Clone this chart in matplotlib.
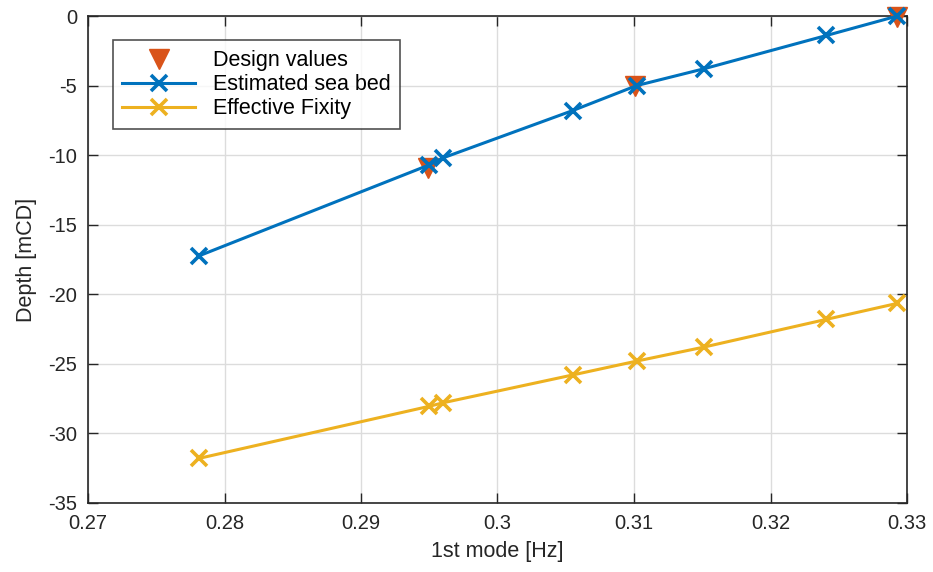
import matplotlib
matplotlib.use('Agg')
import matplotlib.pyplot as plt

# Data
design_freq = [0.2949, 0.3101, 0.3293]
design_depth = [-10.9, -5.0, -0.1]

freq = [0.2781, 0.2950, 0.2960, 0.3055, 0.3102, 0.3151, 0.3241, 0.3293]
seabed_depth = [-17.25, -10.7, -10.2, -6.8, -5.0, -3.8, -1.4, 0.0]
fixity_depth = [-31.8, -28.05, -27.8, -25.8, -24.8, -23.8, -21.8, -20.65]

xticks = [0.27, 0.28, 0.29, 0.3, 0.31, 0.32, 0.33]
xtick_labels = ['0.27', '0.28', '0.29', '0.3', '0.31', '0.32', '0.33']
yticks = [-35, -30, -25, -20, -15, -10, -5, 0]

plt.rcParams['font.family'] = ['Liberation Sans', 'DejaVu Sans']
plt.rcParams['axes.unicode_minus'] = False

fig = plt.figure(figsize=(9.33, 5.72), dpi=100)
ax = fig.add_axes([88 / 933, 1 - 503 / 572, (907 - 88) / 933, (503 - 16) / 572])

ax.plot(design_freq, design_depth, linestyle='none', marker='v', markersize=14,
        color='#D95319', label='Design values', clip_on=False, zorder=3)
ax.plot(freq, seabed_depth, color='#0072BD', linewidth=2.2, marker='x',
        markersize=11, markeredgewidth=2.6, label='Estimated sea bed', clip_on=False, zorder=4)
ax.plot(freq, fixity_depth, color='#EDB120', linewidth=2.2, marker='x',
        markersize=11, markeredgewidth=2.6, label='Effective Fixity', clip_on=False, zorder=4)

ax.set_xlim(0.27, 0.33)
ax.set_ylim(-35, 0)
ax.set_xticks(xticks)
ax.set_xticklabels(xtick_labels)
ax.set_yticks(yticks)
ax.tick_params(direction='in', length=7, width=1, top=True, right=True,
               labelsize=14.5, colors='#262626')
ax.tick_params(axis='x', pad=8)
ax.tick_params(axis='y', pad=8)
ax.grid(True, color='#dcdcdc', linewidth=1)
ax.set_axisbelow(True)
for s in ax.spines.values():
    s.set_color('#262626')
    s.set_linewidth(1.2)

ax.set_xlabel('1st mode [Hz]', fontsize=15.5, color='#262626', labelpad=6)
ax.set_ylabel('Depth [mCD]', fontsize=15.5, color='#262626', labelpad=8)

leg = ax.legend(loc='upper left', bbox_to_anchor=(0.03, 0.95), fontsize=15.5,
                frameon=True, fancybox=False, edgecolor='#262626',
                handlelength=3.4, borderpad=0.45, labelspacing=0.15,
                handletextpad=0.8, borderaxespad=0)
leg.get_frame().set_linewidth(1.2)

plt.savefig('out.png', dpi=100)
